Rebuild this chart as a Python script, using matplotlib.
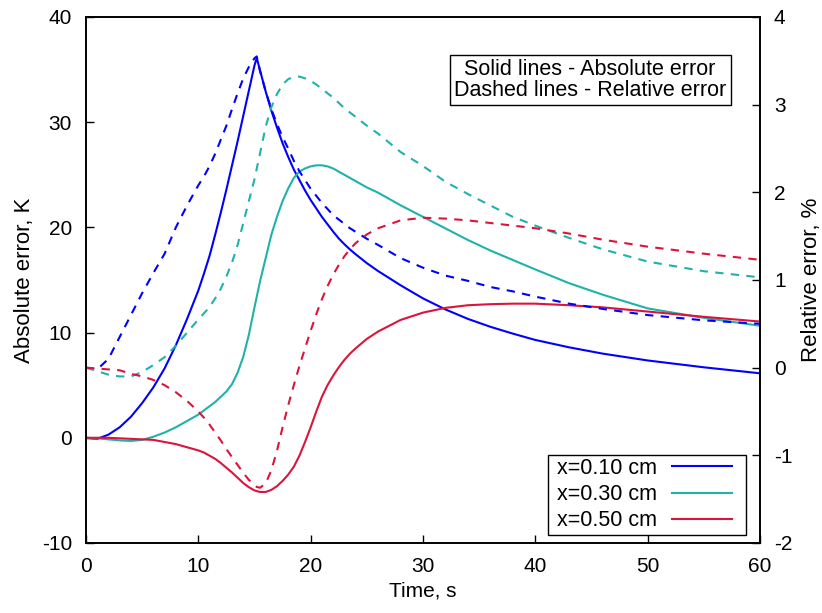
import numpy as np
import matplotlib
matplotlib.use("Agg")
import matplotlib.pyplot as plt
from matplotlib.patches import Rectangle

plt.rcParams["font.family"] = ["Liberation Sans", "DejaVu Sans"]
plt.rcParams["font.size"] = 15
plt.rcParams["axes.unicode_minus"] = False

# time grid, s
time = [0, 1, 2, 3, 4, 5, 6, 7, 8, 9, 10, 10.5, 11, 11.5, 12, 12.5, 13, 13.5, 14, 14.5,
        15, 15.2, 15.5, 16, 16.5, 17, 17.5, 18, 18.5, 19, 19.5, 20, 20.5, 21, 21.5, 22,
        22.5, 23, 23.5, 24, 25, 26, 28, 30, 32, 34, 36, 38, 40, 43, 46, 50, 55, 60]

# absolute error, K (solid lines, left axis)
abs_010 = [0, -0.1, 0.3, 1.0, 2.0, 3.3, 4.8, 6.6, 8.8, 11.3, 14.0, 15.6, 17.3, 19.3, 21.4,
           23.6, 25.9, 28.2, 30.6, 33.0, 35.4, 36.1, 34.9, 32.9, 31.1, 29.5, 28.0, 26.7,
           25.5, 24.5, 23.5, 22.6, 21.8, 21.0, 20.3, 19.6, 18.95, 18.4, 17.9, 17.45, 16.6,
           15.85, 14.5, 13.25, 12.2, 11.3, 10.55, 9.9, 9.3, 8.6, 8.0, 7.35, 6.7, 6.13]
abs_030 = [0, -0.05, -0.15, -0.25, -0.3, -0.2, 0.1, 0.5, 1.0, 1.6, 2.2, 2.6, 3.0, 3.4, 3.9,
           4.4, 5.1, 6.2, 7.7, 9.8, 12.4, 13.4, 14.9, 17.1, 19.3, 21.0, 22.5, 23.7, 24.7,
           25.3, 25.6, 25.8, 25.9, 25.9, 25.8, 25.6, 25.3, 25.0, 24.7, 24.4, 23.8, 23.3,
           22.1, 21.0, 19.9, 18.8, 17.8, 16.9, 16.0, 14.7, 13.6, 12.3, 11.4, 10.65]
abs_050 = [0, 0, 0, -0.05, -0.1, -0.15, -0.2, -0.4, -0.6, -0.9, -1.2, -1.4, -1.7, -2.0,
           -2.4, -2.85, -3.3, -3.8, -4.3, -4.7, -5.0, -5.07, -5.15, -5.15, -4.95, -4.6,
           -4.1, -3.5, -2.75, -1.7, -0.4, 1.0, 2.5, 3.9, 5.0, 5.9, 6.7, 7.4, 8.0, 8.5, 9.4,
           10.1, 11.2, 11.9, 12.35, 12.6, 12.7, 12.75, 12.75, 12.6, 12.4, 12.0, 11.5, 11.05]

# relative error, % (dashed lines, right axis)
rel_010 = [0, -0.02, 0.1, 0.35, 0.6, 0.85, 1.08, 1.3, 1.6, 1.85, 2.08, 2.18, 2.3, 2.44,
           2.6, 2.76, 2.95, 3.13, 3.3, 3.43, 3.53, 3.55, 3.38, 3.15, 2.95, 2.78, 2.63, 2.5,
           2.36, 2.24, 2.14, 2.04, 1.96, 1.88, 1.81, 1.74, 1.69, 1.64, 1.59, 1.55, 1.47,
           1.4, 1.25, 1.14, 1.05, 0.99, 0.92, 0.87, 0.81, 0.73, 0.67, 0.6, 0.54, 0.5]
rel_030 = [0, -0.04, -0.08, -0.1, -0.1, -0.05, 0.03, 0.12, 0.25, 0.4, 0.55, 0.62, 0.69,
           0.79, 0.9, 1.04, 1.2, 1.4, 1.65, 1.9, 2.15, 2.27, 2.45, 2.75, 2.97, 3.12, 3.23,
           3.29, 3.32, 3.32, 3.3, 3.27, 3.23, 3.18, 3.13, 3.08, 3.02, 2.96, 2.91, 2.86,
           2.76, 2.67, 2.46, 2.3, 2.12, 1.98, 1.85, 1.72, 1.62, 1.48, 1.35, 1.21, 1.1, 1.03]
rel_050 = [0, -0.01, -0.02, -0.03, -0.07, -0.1, -0.14, -0.2, -0.28, -0.38, -0.5, -0.57,
           -0.65, -0.74, -0.83, -0.93, -1.02, -1.11, -1.2, -1.28, -1.34, -1.36, -1.37,
           -1.32, -1.17, -0.95, -0.68, -0.43, -0.2, 0.02, 0.22, 0.42, 0.61, 0.78, 0.93,
           1.06, 1.17, 1.27, 1.35, 1.42, 1.52, 1.59, 1.68, 1.71, 1.70, 1.68, 1.65, 1.62,
           1.59, 1.53, 1.46, 1.38, 1.30, 1.23]

labels = ["x=0.10 cm", "x=0.30 cm", "x=0.50 cm"]
colors = ["#0000ff", "#20b2aa", "#dc143c"]

fig = plt.figure(figsize=(8.22, 6.13), dpi=100)
ax = fig.add_axes([0.1046, 0.1142, 0.8200, 0.8581])
ax2 = ax.twinx()

lw = 1.5
dash = (0, (4, 3.5))
for a, lab, c in zip([abs_010, abs_030, abs_050], labels, colors):
    ax.plot(time, a, color=c, lw=lw, label=lab)
for r, c in zip([rel_010, rel_030, rel_050], colors):
    ax2.plot(time, r, color=c, lw=lw, linestyle=dash)

ax.set_xlim(0, 60)
ax.set_ylim(-10, 40)
ax2.set_ylim(-2, 4)
ax.set_xticks(np.arange(0, 61, 10))
ax.set_yticks(np.arange(-10, 41, 10))
ax2.set_yticks(np.arange(-2, 5, 1))

ax.tick_params(direction="in", length=6, width=1, top=False, right=False, pad=10)
ax2.tick_params(direction="in", length=6, width=1, pad=10)
for a in (ax, ax2):
    for s in a.spines.values():
        s.set_linewidth(1.2)

ax.set_xlabel("Time, s", labelpad=4)
ax.set_ylabel("Absolute error, K", fontsize=16, labelpad=5)
ax2.set_ylabel("Relative error, %", fontsize=16, labelpad=6)

ax.text(0.748, 0.88, "Solid lines - Absolute error\nDashed lines - Relative error",
        transform=ax.transAxes, ha="center", va="center", fontsize=15.5,
        linespacing=1.0,
        bbox=dict(boxstyle="square,pad=0.2", fc="white", ec="black", lw=1))

# gnuplot-like key: text first, wide side padding, tight rows
leg = ax2.legend(*ax.get_legend_handles_labels(), loc="lower right",
                 bbox_to_anchor=(0.9585, 0.022), markerfirst=False, frameon=False,
                 fontsize=15.5, handlelength=2.8, labelspacing=0.25, borderpad=0,
                 handletextpad=0.7, borderaxespad=0)
leg.set_zorder(6)
fig.canvas.draw()
bb = leg.get_window_extent()
inv = ax2.transAxes.inverted()
(x0, y0), (x1, y1) = inv.transform([(bb.x0 - 9, bb.y0 - 3.5), (bb.x1 + 14, bb.y1 + 3)])
ax2.add_artist(Rectangle((x0, y0), x1 - x0, y1 - y0, transform=ax2.transAxes,
                         fc="white", ec="black", lw=1, zorder=5))

fig.savefig("out.png", dpi=100)
